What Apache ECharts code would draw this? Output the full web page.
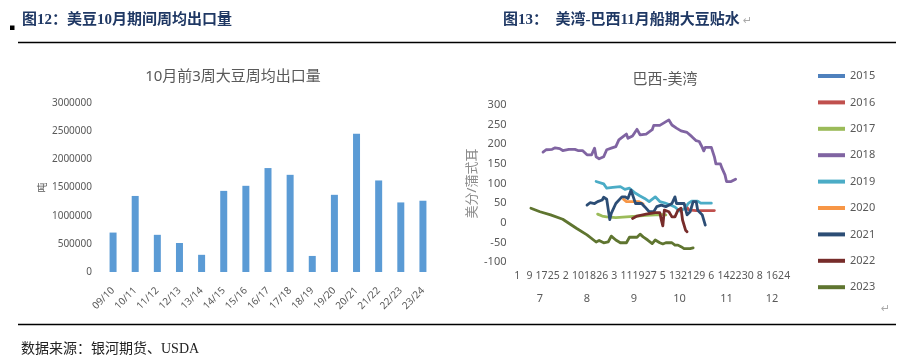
<!DOCTYPE html>
<html><head><meta charset="utf-8">
<script src="https://cdn.jsdelivr.net/npm/echarts@6/dist/echarts.min.js"></script>
<style>html,body{margin:0;padding:0;background:#fff}#c{width:914px;height:364px}</style>
</head><body><div id="c"></div>
<script>
// ---- left chart data ----
const barCategories = ['09/10','10/11','11/12','12/13','13/14','14/15','15/16','16/17','17/18','18/19','19/20','20/21','21/22','22/23','23/24'];
const barValues = [700000,1350000,660000,515000,305000,1440000,1530000,1845000,1725000,285000,1370000,2455000,1625000,1235000,1265000];
const barYTicks = { min: 0, max: 3000000, interval: 500000 };

// ---- right chart data ----
const months = [7, 8, 9, 10, 11, 12];
const monthDays = [31, 31, 30, 31, 30, 31];
const lineYTicks = { min: -100, max: 300, interval: 50 };
const seriesNames = ['2015','2016','2017','2018','2019','2020','2021','2022','2023'];
const seriesColors = ['#4F81BD','#C0504D','#9BBB59','#8064A2','#4BACC6','#F79646','#2C4D75','#772C2A','#5F7530'];

const s2015 = [];
const s2016 = [['10/20',45],['10/22',33],['10/27',31],['11/8',31]];
const s2017 = [['8/23',22],['8/26',17],['8/29',15],['9/4',13],['9/11',15],['9/18',17],['9/24',19],['10/3',21],['10/7',20]];
const s2018 = [['7/18',180],['7/20',186],['7/24',187],['7/26',191],['7/29',189],['7/31',184],['8/4',187],['8/8',187],['8/10',184],['8/13',184],['8/16',173],['8/19',173],['8/20',175],['8/21',190],['8/22',168],['8/24',163],['8/27',168],['8/29',186],['9/1',190],['9/4',194],['9/6',211],['9/9',220],['9/11',226],['9/12',215],['9/15',221],['9/18',238],['9/20',224],['9/24',226],['9/28',237],['9/29',248],['10/3',248],['10/6',255],['10/9',262],['10/11',249],['10/14',241],['10/17',234],['10/21',230],['10/24',220],['10/27',209],['10/29',207],['10/31',192],['11/1',183],['11/2',192],['11/6',192],['11/8',168],['11/9',150],['11/12',150],['11/13',139],['11/15',122],['11/16',105],['11/19',105],['11/22',111]];
const s2019 = [['8/22',105],['8/27',99],['8/29',88],['9/2',90],['9/7',92],['9/10',85],['9/13',88],['9/17',75],['9/20',68],['9/23',62],['9/26',54],['9/30',66],['10/3',54],['10/6',51],['10/10',45],['10/13',40],['10/16',30],['10/19',35],['10/22',50],['10/24',55],['10/28',55],['10/30',50],['11/6',50]];
const s2020 = [['9/9',60],['9/11',54],['9/15',54],['9/19',54],['9/22',48]];
const s2021 = [['8/16',45],['8/18',51],['8/21',49],['8/23',54],['8/26',58],['8/27',65],['8/29',60],['8/31',8],['9/1',24],['9/4',49],['9/8',66],['9/10',66],['9/12',62],['9/14',83],['9/15',79],['9/17',49],['9/21',49],['9/23',41],['9/26',28],['9/29',28],['10/1',41],['10/4',45],['10/7',41],['10/11',49],['10/13',66],['10/14',49],['10/17',49],['10/19',49],['10/21',20],['10/23',28],['10/25',54],['10/27',54],['10/28',32],['10/31',20],['11/2',-6]];
const s2022 = [['9/15',11],['9/18',17],['9/24',22],['9/30',26],['10/3',26],['10/4',7],['10/5',-8],['10/6',32],['10/9',28],['10/11',15],['10/13',15],['10/15',32],['10/17',37],['10/18',7],['10/20',-19],['10/21',-23]];
const s2023 = [['7/10',37],['7/16',28],['7/23',20],['7/31',9],['8/9',-14],['8/16',-31],['8/22',-49],['8/24',-45],['8/27',-51],['8/30',-49],['9/1',-34],['9/2',-36],['9/4',-44],['9/7',-51],['9/11',-51],['9/13',-37],['9/18',-37],['9/20',-29],['9/22',-36],['9/25',-44],['9/28',-53],['9/30',-44],['10/3',-51],['10/5',-54],['10/7',-51],['10/11',-51],['10/13',-57],['10/15',-57],['10/17',-61],['10/19',-66],['10/23',-66],['10/25',-64]];
const lineData = [s2015,s2016,s2017,s2018,s2019,s2020,s2021,s2022,s2023];

// daily categories Jul 1 .. Dec 31
const dayCategories = [];
months.forEach((m, i) => { for (let d = 1; d <= monthDays[i]; d++) dayCategories.push(m + '/' + d); });

const FONT = "'Noto Sans','Noto Sans CJK SC',sans-serif";
const GRAY = '#595959';
const chart = echarts.init(document.getElementById('c'), null, { renderer: 'canvas' });

chart.setOption({
  animation: false,
  textStyle: { fontFamily: FONT },
  grid: [
    { left: 102, right: 480, top: 103, bottom: 92 },
    { left: 516.5, right: 118.5, top: 105, bottom: 102 }
  ],
  xAxis: [
    { gridIndex: 0, type: 'category', data: barCategories,
      axisLine: { show: false }, axisTick: { show: false },
      axisLabel: { rotate: 45, fontSize: 10, color: GRAY, margin: 17, interval: 0, fontFamily: FONT } },
    { gridIndex: 1, type: 'category', data: dayCategories,
      axisLine: { show: false }, axisTick: { show: false },
      axisLabel: { interval: (idx) => idx % 8 === 0, hideOverlap: false,
        fontSize: 10.5, color: GRAY, margin: 9, fontFamily: FONT,
        formatter: v => v.split('/')[1] } },
    { gridIndex: 1, type: 'category', data: dayCategories, position: 'bottom', offset: 22,
      axisLine: { show: false }, axisTick: { show: false },
      axisLabel: { fontSize: 11, color: GRAY, margin: 9, fontFamily: FONT,
        interval: (idx, v) => v.split('/')[1] === '16',
        formatter: v => v.split('/')[0] } }
  ],
  yAxis: [
    { gridIndex: 0, type: 'value', min: barYTicks.min, max: barYTicks.max, interval: barYTicks.interval,
      splitLine: { show: false }, axisLine: { show: false }, axisTick: { show: false },
      axisLabel: { fontSize: 10, color: GRAY, margin: 10, fontFamily: FONT, formatter: v => String(v) },
      name: '吨', nameLocation: 'middle', nameGap: 54, nameRotate: 90,
      nameTextStyle: { fontSize: 10, color: GRAY, fontFamily: FONT } },
    { gridIndex: 1, type: 'value', min: lineYTicks.min, max: lineYTicks.max, interval: lineYTicks.interval,
      splitLine: { show: false }, axisLine: { show: false }, axisTick: { show: false },
      axisLabel: { fontSize: 11, color: GRAY, margin: 10, fontFamily: FONT },
      name: '美分/蒲式耳', nameLocation: 'middle', nameGap: 38, nameRotate: 90,
      nameTextStyle: { fontSize: 13, color: '#8c8c8c', fontFamily: FONT } }
  ],
  legend: {
    orient: 'vertical', left: 813, top: 64, icon: 'rect', itemWidth: 27, itemHeight: 4, itemGap: 12.4,
    textStyle: { fontSize: 11, color: GRAY, lineHeight: 14, fontFamily: FONT },
    data: seriesNames
  },
  series: [
    { type: 'bar', xAxisIndex: 0, yAxisIndex: 0, data: barValues, barWidth: 7,
      itemStyle: { color: '#5B9BD5' } }
  ].concat(seriesNames.map((n, i) => ({
    type: 'line', name: n, xAxisIndex: 1, yAxisIndex: 1, data: lineData[i],
    showSymbol: false, symbol: 'none', color: seriesColors[i],
    lineStyle: { width: 2.8, color: seriesColors[i], cap: 'round', join: 'round' }
  }))),
  graphic: [
    { type: 'rect', shape: { x: 10, y: 25.5, width: 4.5, height: 4.5 }, style: { fill: '#000' } },
    { type: 'text', x: 22, y: 20, style: { text: '图12：美豆10月期间周均出口量', fill: '#1F3864',
      font: "bold 15px 'Liberation Serif','Noto Sans CJK SC',serif", verticalAlign: 'middle' } },
    { type: 'text', x: 503, y: 20, style: { text: '图13：  美湾-巴西11月船期大豆贴水', fill: '#1F3864',
      font: "bold 15px 'Liberation Serif','Noto Sans CJK SC',serif", verticalAlign: 'middle' } },
    { type: 'text', x: 743, y: 21, style: { text: '↵', fill: '#aaa', font: "11px 'DejaVu Sans'", verticalAlign: 'middle' } },
    { type: 'line', shape: { x1: 18, y1: 42.5, x2: 896, y2: 42.5 }, style: { stroke: '#000', lineWidth: 1.5 } },
    { type: 'line', shape: { x1: 18, y1: 324.5, x2: 896, y2: 324.5 }, style: { stroke: '#000', lineWidth: 1.5 } },
    { type: 'text', x: 233, y: 77, style: { text: '10月前3周大豆周均出口量', fill: GRAY,
      font: "15px 'Noto Sans','Noto Sans CJK SC',sans-serif", align: 'center', verticalAlign: 'middle' } },
    { type: 'text', x: 665, y: 80, style: { text: '巴西-美湾', fill: GRAY,
      font: "15px 'Noto Sans','Noto Sans CJK SC',sans-serif", align: 'center', verticalAlign: 'middle' } },
    { type: 'text', x: 881, y: 309, style: { text: '↵', fill: '#aaa', font: "11px 'DejaVu Sans'", verticalAlign: 'middle' } },
    { type: 'text', x: 21, y: 349, style: { text: '数据来源：银河期货、USDA', fill: '#222',
      font: "14px 'Liberation Serif','Noto Sans CJK SC',serif", verticalAlign: 'middle' } }
  ]
});
</script></body></html>
